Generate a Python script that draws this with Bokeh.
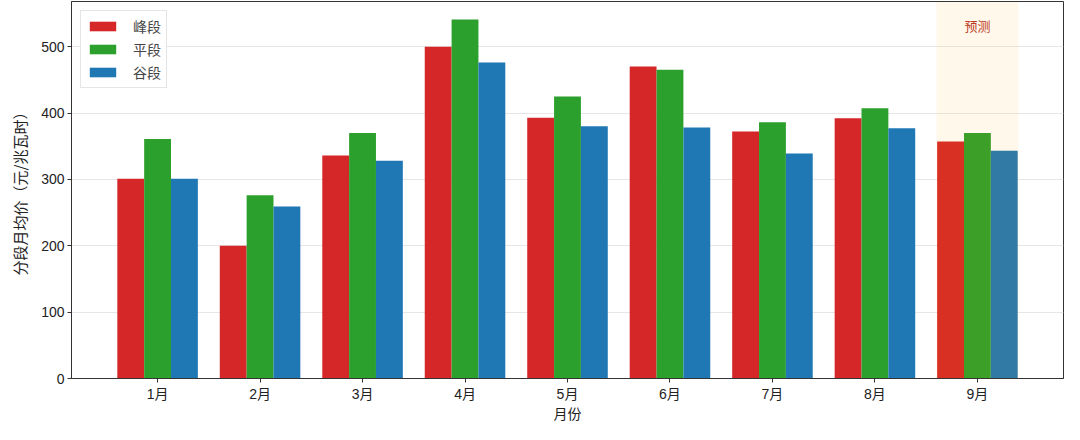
from bokeh.plotting import figure
from bokeh.models import ColumnDataSource, Range1d, FixedTicker, BoxAnnotation, Legend, LegendItem
from bokeh.transform import dodge
from bokeh.core.properties import value
from bokeh.embed import file_html
from bokeh.resources import INLINE

months = ["1月", "2月", "3月", "4月", "5月", "6月", "7月", "8月", "9月"]
peak = [301, 200, 336, 500, 393, 470, 372, 392, 357]
flat = [361, 276, 370, 541, 425, 465, 386, 407, 370]
valley = [301, 259, 328, 476, 380, 378, 339, 377, 343]
series_names = ["峰段", "平段", "谷段"]
colors = ["#d62728", "#2ca02c", "#1f77b4"]
forecast_label = "预测"

FONT = "Liberation Sans, Noto Sans CJK SC"

xs = list(range(len(months)))
src = ColumnDataSource(dict(x=xs, peak=peak, flat=flat, valley=valley))

p = figure(width=1064, height=424, output_backend="svg", toolbar_location=None,
           x_range=Range1d(-0.84, 8.84), y_range=Range1d(0, 568),
           min_border_left=71, min_border_right=1, min_border_top=1, min_border_bottom=44)

w = 0.262
renderers = []
for key, off, c in zip(["peak", "flat", "valley"], [-w, 0, w], colors):
    r = p.vbar(x=dodge("x", off), top=key, width=w, source=src, fill_color=c, line_color=None)
    renderers.append(r)

span = BoxAnnotation(left=7.6, right=8.4, fill_color="orange", fill_alpha=0.08, line_color=None)
p.add_layout(span)

p.text(x=[8], y=[530], text=[forecast_label], text_align="center", text_baseline="middle",
       text_color="#b83227", text_font_size="13px", text_font=value(FONT))

p.xaxis.ticker = FixedTicker(ticks=xs)
p.xaxis.major_label_overrides = {i: m for i, m in enumerate(months)}
p.yaxis.ticker = FixedTicker(ticks=[0, 100, 200, 300, 400, 500])
for ax in (p.xaxis, p.yaxis):
    ax.major_label_text_font = FONT
    ax.major_label_text_font_size = "14px"
    ax.major_label_text_color = "#222222"
    ax.major_label_standoff = 3
    ax.axis_label_text_font = FONT
    ax.axis_label_text_font_style = "normal"
    ax.axis_label_text_color = "#222222"
    ax.minor_tick_line_color = None
    ax.major_tick_out = 4
    ax.major_tick_in = 0
    ax.axis_line_color = "#333333"
    ax.major_tick_line_color = "#333333"
p.xaxis.axis_label = "月份"
p.yaxis.axis_label = "分段月均价（元/兆瓦时）"
p.yaxis.axis_label_text_font = "Noto Sans CJK SC"
p.xaxis.axis_label_text_font_size = "14px"
p.yaxis.axis_label_text_font_size = "15px"
p.xaxis.axis_label_standoff = 1
p.yaxis.axis_label_standoff = 8

p.xgrid.grid_line_color = None
p.ygrid.grid_line_color = "#e6e6e6"
p.outline_line_color = "#333333"
p.outline_line_width = 1

legend = Legend(items=[LegendItem(label=n, renderers=[r]) for n, r in zip(series_names, renderers)],
                location="top_left")
legend.label_text_font = FONT
legend.label_text_font_size = "14px"
legend.glyph_width = 33
legend.glyph_height = 12
legend.label_standoff = 14
legend.spacing = 3
legend.padding = 5
legend.margin = 9
legend.border_line_color = "#cccccc"
legend.background_fill_alpha = 0.9
p.add_layout(legend)

open("out.html", "w").write(file_html(p, INLINE))
